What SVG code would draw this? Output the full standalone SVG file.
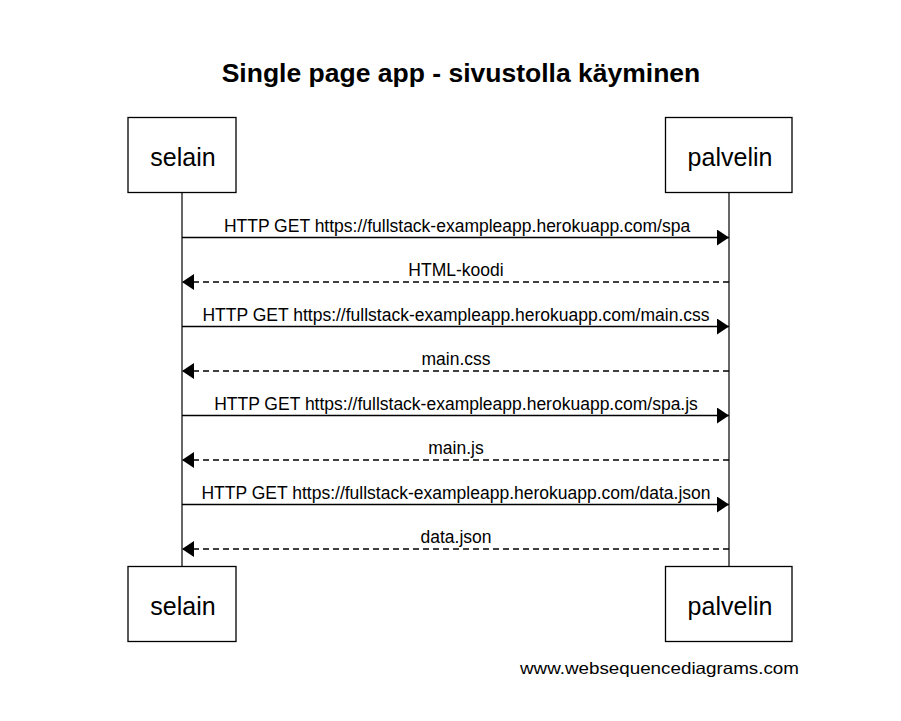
<svg xmlns="http://www.w3.org/2000/svg" width="901" height="721" viewBox="0 0 901 721">
<defs>
<style>
text{font-family:"Liberation Sans",Arial,sans-serif;fill:#000}
.title{font-size:26.5px;font-weight:bold;text-anchor:middle}
.actor rect{fill:#fff;stroke:#000;stroke-width:1.3}
.actor text{font-size:25px;text-anchor:middle}
.life{stroke:#000;stroke-width:1.2}
.msg{stroke:#000;stroke-width:1.3;fill:none}
.dash{stroke-dasharray:6 4}
.lbl{font-size:17.5px;text-anchor:middle}
.foot{font-size:16.5px}
</style>
<marker id="ah" viewBox="0 0 12 16" refX="12" refY="8" markerWidth="12" markerHeight="16" markerUnits="userSpaceOnUse" orient="auto">
<path d="M0,0 L12,8 L0,16 Z" fill="#000"/>
</marker>
</defs>
<rect width="901" height="721" fill="#fff"/>
<text class="title" x="461" y="82">Single page app - sivustolla käyminen</text>
<g id="lifelines">
<line class="life" x1="182" y1="193" x2="182" y2="566"/>
<line class="life" x1="729" y1="193" x2="729" y2="566"/>
</g>
<g id="selain-top" class="actor"><rect x="128" y="117.5" width="108" height="75"/><text x="183" y="166">selain</text></g>
<g id="palvelin-top" class="actor"><rect x="665.5" y="117.5" width="126.5" height="75"/><text x="730" y="166">palvelin</text></g>
<g id="selain-bottom" class="actor"><rect x="128" y="566.5" width="108" height="75"/><text x="183" y="615">selain</text></g>
<g id="palvelin-bottom" class="actor"><rect x="665.5" y="566.5" width="126.5" height="75"/><text x="730" y="615">palvelin</text></g>
<g id="connectors">
<line class="msg" x1="182" y1="237.5" x2="729" y2="237.5" marker-end="url(#ah)"/>
<line class="msg dash" x1="729" y1="282" x2="182" y2="282" marker-end="url(#ah)"/>
<line class="msg" x1="182" y1="326.5" x2="729" y2="326.5" marker-end="url(#ah)"/>
<line class="msg dash" x1="729" y1="371" x2="182" y2="371" marker-end="url(#ah)"/>
<line class="msg" x1="182" y1="415.5" x2="729" y2="415.5" marker-end="url(#ah)"/>
<line class="msg dash" x1="729" y1="460" x2="182" y2="460" marker-end="url(#ah)"/>
<line class="msg" x1="182" y1="504.5" x2="729" y2="504.5" marker-end="url(#ah)"/>
<line class="msg dash" x1="729" y1="549" x2="182" y2="549" marker-end="url(#ah)"/>
</g>
<g id="labels">
<text class="lbl" x="457" y="231.5">HTTP GET https://fullstack-exampleapp.herokuapp.com/spa</text>
<text class="lbl" x="456" y="276">HTML-koodi</text>
<text class="lbl" x="456" y="320.5">HTTP GET https://fullstack-exampleapp.herokuapp.com/main.css</text>
<text class="lbl" x="456" y="365">main.css</text>
<text class="lbl" x="456" y="409.5">HTTP GET https://fullstack-exampleapp.herokuapp.com/spa.js</text>
<text class="lbl" x="456" y="454">main.js</text>
<text class="lbl" x="456" y="498.5">HTTP GET https://fullstack-exampleapp.herokuapp.com/data.json</text>
<text class="lbl" x="456" y="543">data.json</text>
</g>
<text class="foot" x="520" y="674" textLength="279" lengthAdjust="spacingAndGlyphs">www.websequencediagrams.com</text>
</svg>
